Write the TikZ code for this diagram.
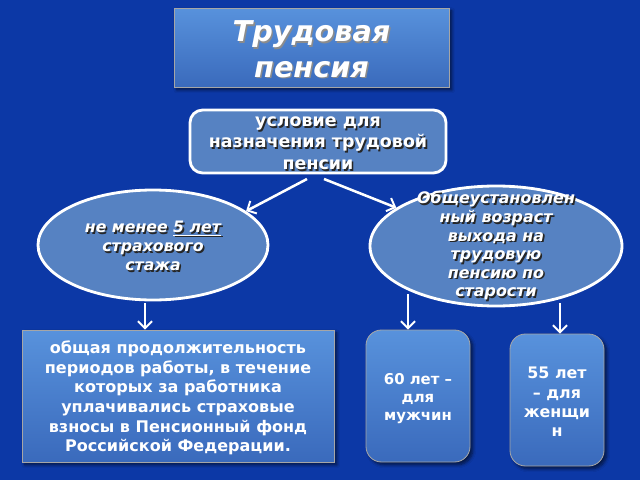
\documentclass[tikz,border=0pt]{standalone}
\usepackage{fontspec}
\setmainfont{DejaVu Sans}
\usetikzlibrary{shapes.geometric,arrows.meta,shadows.blur}
\definecolor{bgblue}{RGB}{12,56,166}
\definecolor{boxtop}{RGB}{88,146,220}
\definecolor{boxbot}{RGB}{58,106,188}
\definecolor{steel}{RGB}{86,130,194}
\newcommand\shd[1]{\rlap{\kern1.1pt\raisebox{-1.1pt}{\color{black!85}#1}}#1}
\newcommand\lshd[1]{\rlap{\kern1pt\raisebox{-1pt}{\color{black!45}#1}}#1}
\tikzset{
  gradbox/.style={top color=boxtop, bottom color=boxbot, draw=black!35, line width=0.6pt,
    blur shadow={shadow xshift=2pt, shadow yshift=-2pt, shadow blur steps=6, shadow opacity=60}},
  steelshape/.style={fill=steel, draw=white, line width=2pt},
  txt/.style={text=white, font=\bfseries, align=center},
  arr/.style={draw=white, line width=1.8pt, -{Straight Barb[length=5pt,width=10pt,line width=1.4pt]}},
}
\begin{document}
\begin{tikzpicture}[x=0.025cm,y=-0.025cm]
\fill[bgblue] (0,0) rectangle (640,480);
\useasboundingbox (0,0) rectangle (640,480);

\node[gradbox, minimum width=275*0.025cm, minimum height=79*0.025cm] (title) at (311.5,47.5) {};
\node[txt, font=\bfseries\itshape\fontsize{20.4}{25.5}\selectfont] (titletext) at (311.5,50) {\lshd{Трудовая}\\\lshd{пенсия}};

\node[steelshape, rounded corners=9pt, minimum width=256*0.025cm, minimum height=63*0.025cm] (cond) at (318,141.5) {};
\node[txt, font=\bfseries\fontsize{12.4}{15.3}\selectfont] (condtext) at (318,144) {\shd{условие для}\\\shd{назначения трудовой}\\\shd{пенсии}};

\node[steelshape, ellipse, minimum width=230*0.025cm, minimum height=110*0.025cm] (left) at (153,245) {};
\node[txt, font=\bfseries\itshape\fontsize{11.2}{13.5}\selectfont] (lefttext) at (153,247) {\shd{не менее \underline{5 лет}}\\\shd{страхового}\\\shd{стажа}};

\node[steelshape, ellipse, minimum width=252*0.025cm, minimum height=120*0.025cm] (right) at (496,246) {};
\node[txt, font=\bfseries\itshape\fontsize{11.3}{13.2}\selectfont] (righttext) at (496,246.5) {\shd{Общеустановлен}\\\shd{ный возраст}\\\shd{выхода на}\\\shd{трудовую}\\\shd{пенсию по}\\\shd{старости}};

\node[gradbox, minimum width=312*0.025cm, minimum height=132*0.025cm] (total) at (178,396) {};
\node[txt, font=\bfseries\fontsize{11.4}{13.9}\selectfont] (totaltext) at (178,398) {общая продолжительность\\периодов работы, в течение\\которых за работника\\уплачивались страховые\\взносы в Пенсионный фонд\\Российской Федерации.};

\node[gradbox, rounded corners=11pt, minimum width=104*0.025cm, minimum height=132*0.025cm] (men) at (418,396) {};
\node[txt, font=\bfseries\fontsize{10.6}{12.8}\selectfont] (mentext) at (418,399) {60 лет –\\для\\мужчин};

\node[gradbox, rounded corners=11pt, minimum width=94*0.025cm, minimum height=132*0.025cm] (women) at (557,400) {};
\node[txt, font=\bfseries\fontsize{11.3}{13.8}\selectfont] (womentext) at (557,402) {55 лет\\– для\\женщи\\н};

\coordinate (c1) at (307,179);
\coordinate (c2) at (324,179);
\draw[arr] (c1) -- (left.20);
\draw[arr] (c2) -- (right.159);
\draw[arr] (left.south -| 145,0) ++(0,2) -- (total.north -| 145,0);
\draw[arr] (408,294) -- (men.north -| 408,0);
\draw[arr] (560,303) -- (women.north -| 560,0);
\end{tikzpicture}
\end{document}
